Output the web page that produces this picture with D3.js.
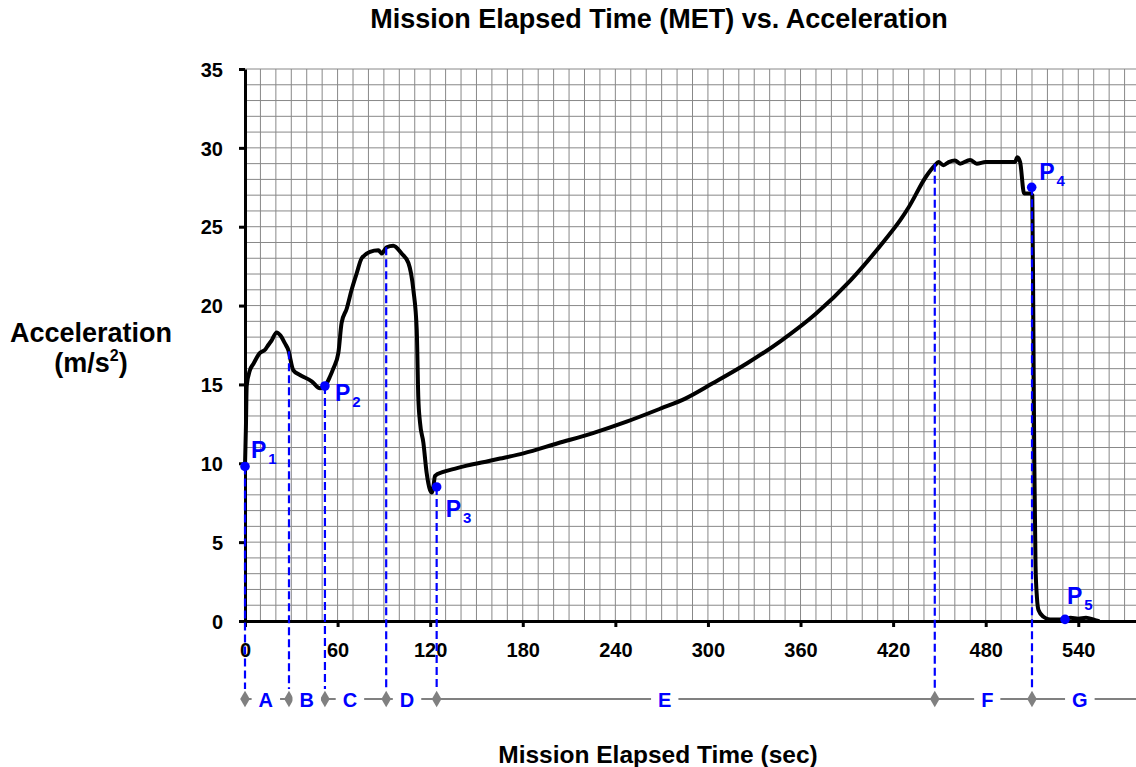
<!DOCTYPE html>
<html><head><meta charset="utf-8">
<script src="https://cdn.jsdelivr.net/npm/d3@7"></script>
<style>
body{margin:0;background:#fff}
svg{display:block}
text{font-family:"Liberation Sans",Arial,Helvetica,sans-serif;font-weight:bold}
</style>
</head><body>
<svg id="c" width="1136" height="767"></svg>
<script>
// ---- data ----
const timeSec = [0, 0.6, 1.1, 3.2, 5.4, 9.7, 13, 15.1, 17.3, 20.5, 23, 25.9, 28, 31.3, 35.6, 43.2, 48.6, 51.8, 55.1, 57.2, 60.5, 62.6, 65.9, 69.1, 72.4, 75.6, 81, 86.4, 88.6, 91.8, 96.1, 101.5, 105.9, 109.1, 111.3, 112.3, 113.4, 115.6, 117.7, 119.9, 121, 122.2, 123.1, 128.5, 135.7, 143.7, 158.1, 165.3, 180.4, 202.7, 225, 247.3, 269.6, 285.3, 303.1, 325.4, 347.8, 370.1, 392.4, 414.7, 424.5, 430.3, 441.5, 447.2, 449.4, 452.6, 456, 460.1, 463.4, 469.9, 474.2, 480, 487.2, 499, 500.5, 502.3, 504.9, 508.7, 510.2, 510.8, 511.5, 512.3, 513.2, 514.2, 517.4, 521.7, 531.4, 535, 540, 545, 551, 553];
const accel   = [9.8, 12.3, 14.9, 15.9, 16.3, 17.0, 17.2, 17.5, 17.8, 18.3, 18.1, 17.6, 17.2, 15.9, 15.6, 15.2, 14.75, 14.9, 15.5, 16.0, 17.0, 18.9, 19.8, 21.0, 22.05, 23.0, 23.4, 23.5, 23.3, 23.7, 23.8, 23.3, 22.7, 21.0, 18.45, 14.2, 12.6, 11.3, 9.4, 8.3, 8.15, 8.6, 9.2, 9.45, 9.65, 9.85, 10.15, 10.3, 10.63, 11.27, 11.9, 12.64, 13.48, 14.1, 15.07, 16.34, 17.8, 19.5, 21.6, 24.16, 25.4, 26.27, 28.2, 28.9, 29.1, 28.9, 29.1, 29.2, 29.0, 29.23, 29.0, 29.1, 29.1, 29.1, 29.4, 29.1, 27.1, 27.1, 27.0, 20, 10, 3.5, 1.5, 0.7, 0.27, 0.1, 0.1, 0.2, 0.15, 0.2, 0.05, 0];
const xTicks = [0, 60, 120, 180, 240, 300, 360, 420, 480, 540];
const yTicks = [0, 5, 10, 15, 20, 25, 30, 35];
const pointNames = ["1", "2", "3", "4", "5"];
const pointTime  = [0, 51.8, 124.2, 509.8, 531.4];
const pointAccel = [9.8, 14.9, 8.5, 27.5, 0.1];
const phaseBoundTime  = [0, 28.5, 51.8, 91.5, 124.2, 447, 510];
const phaseBoundAccel = [9.8, 17.1, 14.9, 23.7, 8.5, 29.0, 27.5];
const phaseNames     = ["A", "B", "C", "D", "E", "F", "G"];
const phaseLabelTime = [13.5, 40, 68, 105, 272, 481, 541];
const titleText = "Mission Elapsed Time (MET) vs. Acceleration";
const xTitle = "Mission Elapsed Time (sec)";
const yTitle1 = "Acceleration";

// ---- layout ----
const L = 245, R = 1136, T = 69, B = 621, rowY = 699;
const svg = d3.select("#c");
const x = d3.scaleLinear().domain([0, 577.4]).range([L, R]);
const y = d3.scaleLinear().domain([0, 35]).range([B, T]);
const BLUE = "#0000ff", GRID = "#888888";

// grid
const g = svg.append("g");
g.selectAll("line.v").data(d3.range(10, 577, 10)).join("line")
  .attr("x1", d => x(d)).attr("x2", d => x(d)).attr("y1", T).attr("y2", B)
  .attr("stroke", GRID).attr("stroke-width", 1);
g.selectAll("line.h").data(d3.range(1, 36, 1)).join("line")
  .attr("x1", L).attr("x2", R).attr("y1", d => y(d)).attr("y2", d => y(d))
  .attr("stroke", GRID).attr("stroke-width", 1);

// axes
const xAxis = svg.append("g").attr("transform", `translate(0,${B})`)
  .call(d3.axisBottom(x).tickValues(xTicks).tickSize(6).tickPadding(16).tickSizeOuter(0));
const yAxis = svg.append("g").attr("transform", `translate(${L},0)`)
  .call(d3.axisLeft(y).tickValues(yTicks).tickSize(6).tickPadding(16).tickSizeOuter(0));
[xAxis, yAxis].forEach(a => {
  a.select(".domain").attr("stroke", "#000").attr("stroke-width", 3);
  a.selectAll(".tick line").attr("stroke", "#000").attr("stroke-width", 3);
  a.selectAll(".tick text").attr("fill", "#000").style("font-size", "20px")
   .style("font-family", '"Liberation Sans",Arial,sans-serif').style("font-weight", "bold");
});
yAxis.selectAll(".tick text").attr("dy", "0.36em");

// curve
const pts = timeSec.map((t, i) => [t, accel[i]]);
svg.append("path").datum(pts)
  .attr("d", d3.line().x(d => x(d[0])).y(d => y(d[1])).curve(d3.curveMonotoneX))
  .attr("fill", "none").attr("stroke", "#000").attr("stroke-width", 4)
  .attr("stroke-linejoin", "round").attr("stroke-linecap", "round");

// phase row
svg.append("line").attr("x1", x(0)).attr("x2", R).attr("y1", rowY).attr("y2", rowY)
  .attr("stroke", "#808080").attr("stroke-width", 2);

// dashed drop lines
svg.selectAll("line.drop").data(phaseBoundTime).join("line")
  .attr("x1", d => x(d)).attr("x2", d => x(d))
  .attr("y1", (d, i) => y(phaseBoundAccel[i])).attr("y2", rowY - 10)
  .attr("stroke", BLUE).attr("stroke-width", 2.2).attr("stroke-dasharray", "8,4");

// diamonds
svg.selectAll("path.dia").data(phaseBoundTime).join("path")
  .attr("transform", d => `translate(${x(d)},${rowY})`)
  .attr("d", d3.symbol().type(d3.symbolDiamond).size(80))
  .attr("fill", "#808080");

// phase letters with gaps
phaseNames.forEach((n, i) => {
  const t = svg.append("text").attr("x", x(phaseLabelTime[i])).attr("y", rowY + 8)
    .attr("text-anchor", "middle").attr("fill", BLUE).style("font-size", "20px").text(n);
  const bb = t.node().getBBox();
  svg.insert("rect", () => t.node()).attr("x", bb.x - 7).attr("y", rowY - 3)
    .attr("width", bb.width + 14).attr("height", 6).attr("fill", "#fff");
});

// points
svg.selectAll("circle.pt").data(pointTime).join("circle")
  .attr("cx", d => x(d)).attr("cy", (d, i) => y(pointAccel[i])).attr("r", 4.8)
  .attr("fill", BLUE);
const labelOff = [[6, -8], [10, 15], [9, 30], [7.5, -7], [2, -15]];
pointNames.forEach((n, i) => {
  const t = svg.append("text")
    .attr("x", x(pointTime[i]) + labelOff[i][0]).attr("y", y(pointAccel[i]) + labelOff[i][1])
    .attr("fill", BLUE).style("font-size", "23px");
  t.append("tspan").text("P");
  t.append("tspan").attr("dx", 2).attr("dy", 6).style("font-size", "15px").text(n);
});

// titles
svg.append("text").attr("x", 659).attr("y", 28).attr("text-anchor", "middle")
  .style("font-size", "27px").text(titleText);
svg.append("text").attr("x", 658).attr("y", 763).attr("text-anchor", "middle")
  .style("font-size", "24.5px").text(xTitle);
svg.append("text").attr("x", 91).attr("y", 342).attr("text-anchor", "middle")
  .style("font-size", "27px").text(yTitle1);
const y2 = svg.append("text").attr("x", 91).attr("y", 372).attr("text-anchor", "middle")
  .style("font-size", "27px");
y2.append("tspan").text("(m/s");
y2.append("tspan").attr("dy", -11).style("font-size", "16px").text("2");
y2.append("tspan").attr("dy", 11).text(")");
</script>
</body></html>
